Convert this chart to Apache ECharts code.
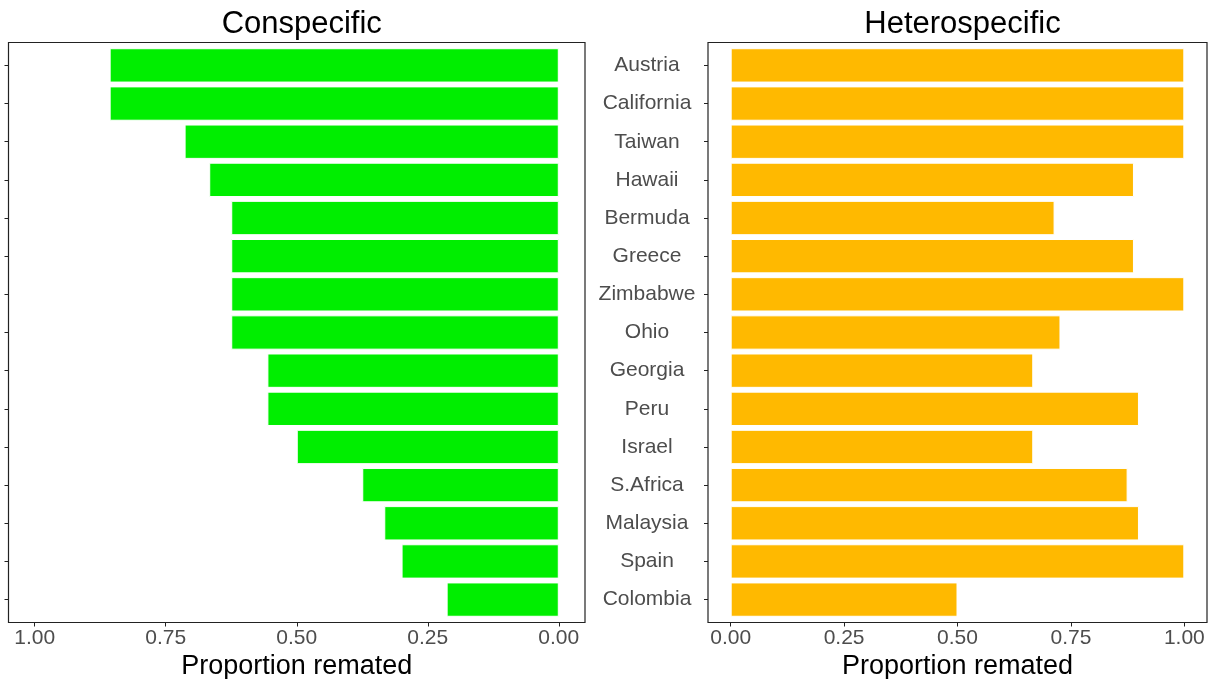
<!DOCTYPE html>
<html>
<head>
<meta charset="utf-8">
<script src="https://cdn.jsdelivr.net/npm/echarts@6/dist/echarts.min.js"></script>
<style>
  html, body { margin: 0; padding: 0; background: #fff; }
  #chart { width: 1214px; height: 679px; }
</style>
</head>
<body>
<div id="chart"></div>
<script>
// Populations, top to bottom
const sites = ['Austria', 'California', 'Taiwan', 'Hawaii', 'Bermuda', 'Greece', 'Zimbabwe',
  'Ohio', 'Georgia', 'Peru', 'Israel', 'S.Africa', 'Malaysia', 'Spain', 'Colombia'];

// Proportion of females that remated with the same species
const conspecific = [0.857, 0.857, 0.714, 0.667, 0.625, 0.625, 0.625, 0.625,
  0.556, 0.556, 0.5, 0.375, 0.333, 0.3, 0.214];

// Proportion of females that remated with the other species
const heterospecific = [1.0, 1.0, 1.0, 0.889, 0.714, 0.889, 1.0, 0.727,
  0.667, 0.9, 0.667, 0.875, 0.9, 1.0, 0.5];

const xTicks = [0, 0.25, 0.5, 0.75, 1];
const xTickText = v => v.toFixed(2);

const FONT = 'Liberation Sans, Arial, sans-serif';
const labelGrey = '#4D4D4D';
const frame = '#222222';

// Panel frames (outer box); the category bands sit inside with a 0.1-band pad
const panels = [
  { x: 8.5, y: 42.5, w: 576.5, h: 580 },
  { x: 708, y: 42.5, w: 499, h: 580 }
];
const bandPad = panels[0].h / 15.2 * 0.1;

function valueAxis(gridIndex, inverse) {
  return {
    type: 'value', gridIndex, inverse,
    min: -0.05, max: 1.05,
    offset: bandPad,
    splitLine: { show: false },
    axisLine: { show: false },
    axisTick: { show: true, customValues: xTicks, length: 4, lineStyle: { color: frame } },
    axisLabel: { customValues: xTicks, formatter: xTickText, color: labelGrey,
      fontSize: 21, fontFamily: FONT, margin: 5 },
    name: 'Proportion remated', nameLocation: 'middle', nameGap: 26,
    nameTextStyle: { color: '#000', fontSize: 27, fontFamily: FONT }
  };
}

function categoryAxis(gridIndex, showLabels) {
  return {
    type: 'category', gridIndex, data: sites, inverse: true, position: 'left',
    axisLine: { show: false, onZero: false },
    axisTick: { show: true, length: 4, alignWithLabel: true, lineStyle: { color: frame } },
    axisLabel: showLabels
      ? { show: true, color: labelGrey, fontSize: 21, fontFamily: FONT, align: 'center',
          margin: 61, padding: [3, 0, 0, 0] }
      : { show: false }
  };
}

const chart = echarts.init(document.getElementById('chart'), null, { renderer: 'canvas' });
chart.setOption({
  backgroundColor: '#fff',
  animation: false,
  title: [
    { text: 'Conspecific', left: panels[0].x + panels[0].w / 2, top: 4, textAlign: 'center',
      textStyle: { fontSize: 31, fontWeight: 'normal', color: '#000', fontFamily: FONT } },
    { text: 'Heterospecific', left: panels[1].x + panels[1].w / 2, top: 4, textAlign: 'center',
      textStyle: { fontSize: 31, fontWeight: 'normal', color: '#000', fontFamily: FONT } }
  ],
  grid: panels.map(p => ({
    left: p.x, width: p.w, top: p.y + bandPad, height: p.h - 2 * bandPad, show: false,
    containLabel: false, outerBoundsMode: 'none'
  })),
  graphic: panels.map(p => ({
    type: 'rect', z: 100, silent: true,
    shape: { x: p.x, y: p.y, width: p.w, height: p.h },
    style: { fill: 'none', stroke: frame, lineWidth: 1.2 }
  })),
  xAxis: [valueAxis(0, true), valueAxis(1, false)],
  yAxis: [categoryAxis(0, false), categoryAxis(1, true)],
  series: [
    { type: 'bar', xAxisIndex: 0, yAxisIndex: 0, data: conspecific,
      barCategoryGap: '10%',
      itemStyle: { color: '#00EE00', borderColor: '#ffffff', borderWidth: 1 } },
    { type: 'bar', xAxisIndex: 1, yAxisIndex: 1, data: heterospecific,
      barCategoryGap: '10%',
      itemStyle: { color: '#FFB900', borderColor: '#ffffff', borderWidth: 1 } }
  ]
});
</script>
</body>
</html>
